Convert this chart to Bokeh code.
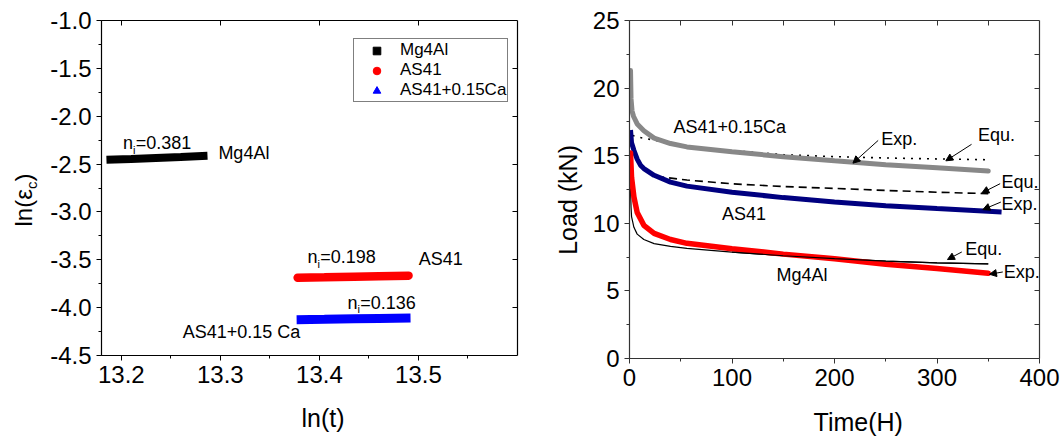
import math
from bokeh.plotting import figure
from bokeh.models import (Range1d, LinearAxis, SingleIntervalTicker, FixedTicker, Label,
                          Arrow, NormalHead, Legend, LegendItem, CustomJSTickFormatter)
from bokeh.layouts import row, column
from bokeh.embed import file_html
from bokeh.resources import INLINE

FONT = "Liberation Sans"

# ---------------- Left panel data: ln(t) vs ln(eps_c) ----------------
left_names = ["Mg4Al", "AS41", "AS41+0.15Ca"]
n_values = ["=0.381", "=0.198", "=0.136"]
mg_lnt = [13.185, 13.21, 13.235, 13.26, 13.287]
mg_lne = [-2.455, -2.446, -2.436, -2.426, -2.414]
as_lnt = [13.378, 13.405, 13.435, 13.46, 13.49]
as_lne = [-3.688, -3.683, -3.677, -3.672, -3.666]
ca_lnt = [13.377, 13.405, 13.435, 13.46, 13.492]
ca_lne = [-4.126, -4.122, -4.117, -4.113, -4.108]

# ---------------- Right panel data: Time (H) vs Load (kN) ----------------
ca_exp_t = [1.0, 1.5, 2.5, 4, 7.5, 14, 24, 40, 56, 100, 150, 200, 250, 300, 350]
ca_exp_L = [21.3, 19.2, 18.3, 17.9, 17.35, 16.85, 16.3, 15.9, 15.65, 15.3, 14.92, 14.62, 14.33, 14.1, 13.87]
ca_equ_t = [3, 10, 24, 40, 60, 100, 150, 200, 250, 300, 350]
ca_equ_L = [16.5, 16.35, 16.15, 15.9, 15.62, 15.38, 15.08, 14.93, 14.83, 14.76, 14.7]
as_exp_t = [1.0, 2, 4.3, 7.5, 10.7, 14, 24, 40, 56, 100, 150, 200, 250, 300, 363]
as_exp_L = [16.9, 15.95, 15.4, 14.75, 14.3, 14.05, 13.55, 13.05, 12.75, 12.3, 11.9, 11.58, 11.3, 11.09, 10.84]
as_equ_t = [26, 56, 100, 150, 200, 250, 300, 350]
as_equ_L = [13.47, 13.2, 12.92, 12.72, 12.58, 12.43, 12.3, 12.19]
mg_exp_t = [1.0, 2, 4.3, 7.5, 14, 24, 40, 56, 100, 150, 200, 250, 300, 350]
mg_exp_L = [15.2, 13.4, 11.95, 10.8, 9.85, 9.25, 8.8, 8.52, 8.12, 7.72, 7.38, 6.97, 6.65, 6.3]
mg_equ_t = [1.0, 1.5, 2, 4.3, 7.5, 14, 24, 40, 56, 100, 150, 200, 250, 300, 350]
mg_equ_L = [12.6, 11.2, 10.5, 9.7, 9.2, 8.8, 8.5, 8.3, 8.15, 7.87, 7.6, 7.38, 7.2, 7.08, 7.0]


def style_axis(ax, font_px=24, color="black"):
    ax.major_label_text_font = FONT
    ax.major_label_text_font_size = f"{font_px}px"
    ax.major_label_text_color = "black"
    ax.axis_line_color = color
    ax.axis_line_width = 1.2
    ax.major_tick_line_color = color
    ax.minor_tick_line_color = color
    ax.major_tick_out = 5
    ax.major_tick_in = 0
    ax.minor_tick_out = 3
    ax.minor_tick_in = 0
    ax.major_label_standoff = 5
    ax.axis_label_text_font = FONT
    ax.axis_label_text_font_size = "25px"
    ax.axis_label_text_font_style = "normal"
    ax.axis_label_text_color = "black"


def mirror_axis(p, ticks, side, color="black"):
    ax = LinearAxis(ticker=FixedTicker(ticks=ticks),
                    formatter=CustomJSTickFormatter(code="return ''"))
    ax.axis_line_color = color
    ax.axis_line_width = 1.2
    ax.major_tick_line_color = color
    ax.major_tick_in = 5
    ax.major_tick_out = 0
    ax.minor_tick_line_color = None
    ax.major_label_standoff = 0
    ax.major_label_text_font_size = "1px"
    p.add_layout(ax, side)


def txt(p, x, y, s, size=18, align="left", angle=0.0):
    off = round(0.33 * size)
    if angle:
        xo, yo = -off, 0
    else:
        xo, yo = 0, off
    p.add_layout(Label(x=x, y=y, text=s, text_font=FONT, text_font_size=f"{size}px",
                       text_align=align, text_baseline="alphabetic", angle=angle,
                       x_offset=xo, y_offset=yo, text_color="black"))


def strip(w, h):
    s = figure(width=w, height=h, x_range=Range1d(0, w), y_range=Range1d(h, 0),
               output_backend="svg", toolbar_location=None,
               min_border_left=0, min_border_right=0, min_border_top=0, min_border_bottom=0)
    s.axis.visible = False
    s.grid.visible = False
    s.outline_line_color = None
    return s


# ================= y-title strip for the left panel (pixel coordinates) =================
p0 = strip(40, 436)
txt(p0, 31, 226, "ln(ε", size=24, angle=math.pi / 2)
txt(p0, 36, 188.5, "c", size=15, angle=math.pi / 2)
txt(p0, 31, 181, ")", size=24, angle=math.pi / 2)

# ================= Left figure =================
p1 = figure(width=505, height=400, x_range=Range1d(13.18, 13.6), y_range=Range1d(-4.5, -1.0),
            output_backend="svg", toolbar_location=None,
            min_border_left=61, min_border_right=28, min_border_top=20, min_border_bottom=45)
p1.grid.visible = False
p1.outline_line_color = None
p1.xaxis.ticker = SingleIntervalTicker(interval=0.1, num_minor_ticks=2)
p1.yaxis.ticker = SingleIntervalTicker(interval=0.5, num_minor_ticks=2)
p1.yaxis.formatter = CustomJSTickFormatter(code="return tick.toFixed(1)")
style_axis(p1.xaxis[0])
style_axis(p1.yaxis[0])
mirror_axis(p1, [13.2, 13.3, 13.4, 13.5], "above")
mirror_axis(p1, [-4.0, -3.5, -3.0, -2.5, -2.0, -1.5], "right")

p1.line(mg_lnt, mg_lne, line_color="black", line_width=8, line_cap="butt")
p1.line(as_lnt, as_lne, line_color="#ff0000", line_width=8.5, line_cap="round")
p1.line(ca_lnt, ca_lne, line_color="#0000ff", line_width=9, line_cap="butt")

# legend-only marker renderers (placed outside the visible range)
lg_mg = p1.scatter([0], [0], marker="square", color="black", size=6)
lg_as = p1.scatter([0], [0], marker="circle", color="#ff0000", size=6)
lg_ca = p1.scatter([0], [0], marker="triangle", color="#0000ff", size=7)
legend = Legend(items=[LegendItem(label=left_names[0], renderers=[lg_mg]),
                       LegendItem(label=left_names[1], renderers=[lg_as]),
                       LegendItem(label=left_names[2], renderers=[lg_ca])],
                location=(252, 253), padding=1, spacing=0, margin=0,
                glyph_width=43, glyph_height=19, label_height=19, label_standoff=2,
                label_text_font=FONT, label_text_font_size="17px", label_text_color="black",
                border_line_color="black", border_line_width=1,
                background_fill_color="white", background_fill_alpha=1)
p1.add_layout(legend, "center")

# n_i annotations and series labels
txt(p1, 13.2017, -2.343, "n")
txt(p1, 13.2118, -2.395, "i", size=11)
txt(p1, 13.2146, -2.343, n_values[0])
txt(p1, 13.298, -2.448, left_names[0])

txt(p1, 13.3880, -3.533, "n")
txt(p1, 13.3981, -3.585, "i", size=11)
txt(p1, 13.4009, -3.533, n_values[1])
txt(p1, 13.5004, -3.558, "AS41")

txt(p1, 13.4283, -4.009, "n")
txt(p1, 13.4384, -4.061, "i", size=11)
txt(p1, 13.4412, -4.009, n_values[2])
txt(p1, 13.3807, -4.322, "AS41+0.15 Ca", align="right")

# x-title strip under the left panel
b1 = strip(505, 36)
txt(b1, 269, 25, "ln(t)", size=25, align="center")

# ================= Right figure =================
AX2 = "#333333"
p2 = figure(width=518, height=400, x_range=Range1d(0, 400), y_range=Range1d(0, 25),
            output_backend="svg", toolbar_location=None,
            min_border_left=84, min_border_right=24, min_border_top=20, min_border_bottom=42)
p2.grid.visible = False
p2.outline_line_color = None
p2.xaxis.ticker = SingleIntervalTicker(interval=100, num_minor_ticks=2)
p2.yaxis.ticker = SingleIntervalTicker(interval=5, num_minor_ticks=2)
style_axis(p2.xaxis[0], color=AX2)
style_axis(p2.yaxis[0], color=AX2)
p2.yaxis.axis_label = "Load (kN)" + "\u00a0" * 3
p2.yaxis.axis_label_standoff = 8
mirror_axis(p2, [50, 100, 150, 200, 250, 300, 350], "above", color=AX2)
mirror_axis(p2, [2.5, 5, 7.5, 10, 12.5, 15, 17.5, 20, 22.5], "right", color=AX2)

p2.line(mg_equ_t, mg_equ_L, line_color="black", line_width=1.2)
p2.line(ca_equ_t, ca_equ_L, line_color="black", line_width=1.6, line_dash="2 6")
p2.line(as_equ_t, as_equ_L, line_color="black", line_width=1.6, line_dash="8 5")
p2.line(ca_exp_t, ca_exp_L, line_color="#888888", line_width=5, line_cap="round")
p2.line(as_exp_t, as_exp_L, line_color="#000080", line_width=5, line_cap="butt")
p2.line(mg_exp_t, mg_exp_L, line_color="#ff0000", line_width=5.5, line_cap="round")
p2.line(mg_equ_t[9:], mg_equ_L[9:], line_color="black", line_width=1.2)


def arrow(p, x0, y0, x1, y1):
    p.add_layout(Arrow(end=NormalHead(size=7, fill_color="black", line_color="black", line_width=1),
                       x_start=x0, y_start=y0, x_end=x1, y_end=y1,
                       line_color="black", line_width=1))


txt(p2, 42.9, 16.66, "AS41+0.15Ca")
txt(p2, 245.6, 15.77, "Exp.")
arrow(p2, 242.6, 16.13, 218, 14.45)
txt(p2, 340, 16.07, "Equ.")
arrow(p2, 333.7, 15.84, 308.6, 14.62)
txt(p2, 90.3, 10.25, "AS41")
txt(p2, 363, 12.59, "Equ.")
arrow(p2, 361.6, 12.93, 343.7, 12.24)
txt(p2, 363, 10.99, "Exp.")
arrow(p2, 362.3, 11.57, 344.7, 11.01)
txt(p2, 327.5, 7.66, "Equ.")
arrow(p2, 324.2, 7.88, 310.2, 7.32)
txt(p2, 365, 5.94, "Exp.")
arrow(p2, 364.2, 6.4, 351.2, 6.23)
txt(p2, 143.3, 5.72, "Mg4Al")

# x-title strip under the right panel
b2 = strip(518, 36)
txt(b2, 289, 29.5, "Time(H)", size=25, align="center")

layout = row(p0, column(p1, b1), column(p2, b2))
open("out.html", "w").write(file_html(layout, INLINE))
